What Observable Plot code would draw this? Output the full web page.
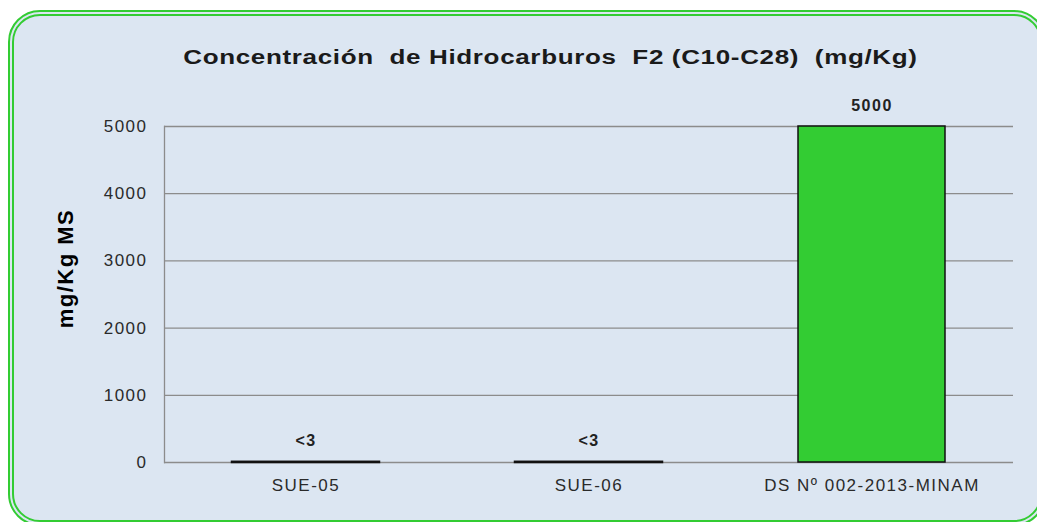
<!DOCTYPE html>
<html>
<head>
<meta charset="utf-8">
<script src="https://cdn.jsdelivr.net/npm/d3@7"></script>
<script src="https://cdn.jsdelivr.net/npm/@observablehq/plot@0.6"></script>
<style>
  html, body { margin: 0; padding: 0; background: #ffffff; }
  #wrap { position: relative; width: 1037px; height: 522px; overflow: hidden; background: #ffffff; }
  #frame { position: absolute; left: 8px; top: 10px; width: 1038px; height: 516px;
    border: 6px double #33cc33; border-radius: 32px; background: #dce6f2; box-sizing: border-box; }
  #title { position: absolute; left: 0; top: 46px; width: 1100px; text-align: center;
    font-family: "Liberation Sans", Arial, sans-serif; font-weight: bold;
    font-size: 20px; letter-spacing: 0.5px; color: #1a1a1a; }
  #title span { display: inline-block; transform: scaleX(1.3); transform-origin: center; }
  #chart { position: absolute; left: 0; top: 80px; }
</style>
</head>
<body>
<div id="wrap">
  <div id="frame"></div>
  <div id="title"><span>Concentración&nbsp; de Hidrocarburos&nbsp; F2 (C10-C28)&nbsp; (mg/Kg)</span></div>
  <div id="chart"></div>
</div>
<script>
const categories = ["SUE-05", "SUE-06", "DS Nº 002-2013-MINAM"];
const values = [3, 3, 5000];
const labels = ["<3", "<3", "5000"];
const yTicks = [0, 1000, 2000, 3000, 4000, 5000];

const data = categories.map((c, i) => ({cat: c, value: values[i], label: labels[i]}));

const chart = Plot.plot({
  width: 1037,
  height: 442,
  marginLeft: 164,
  marginRight: 24,
  marginTop: 46,
  marginBottom: 60,
  style: {background: "transparent", fontFamily: "'Liberation Sans', Arial, sans-serif", color: "#2a2a2a", letterSpacing: "1.5px"},
  x: {domain: categories, paddingInner: 0.48, paddingOuter: 0.24, label: null},
  y: {domain: [0, 5000], label: null},
  marks: [
    Plot.gridY(yTicks, {stroke: "#8c8c8c", strokeOpacity: 1, strokeWidth: 1.3}),
    Plot.frame({anchor: "left", stroke: "#8c8c8c", strokeWidth: 1.3}),
    Plot.barY(data, {x: "cat", y: "value", fill: "#33cc33", stroke: "#111", strokeWidth: d => d.value < 100 ? 2.5 : 1.5}),
    Plot.text(data, {x: "cat", y: "value", text: "label", dy: -21, fontSize: 16, fontWeight: "bold", fill: "#222"}),
    Plot.text(["mg/Kg MS"], {frameAnchor: "left", textAnchor: "middle", dx: -99, dy: -26, rotate: -90, fontSize: 22, fontWeight: "bold", fill: "#000"}),
    Plot.axisX({tickSize: 0, tickPadding: 16, label: null, fontSize: 17}),
    Plot.axisY({ticks: yTicks, tickSize: 0, tickPadding: 17, label: null, fontSize: 17, tickFormat: d => String(d)})
  ]
});
document.getElementById("chart").appendChild(chart);
</script>
</body>
</html>
